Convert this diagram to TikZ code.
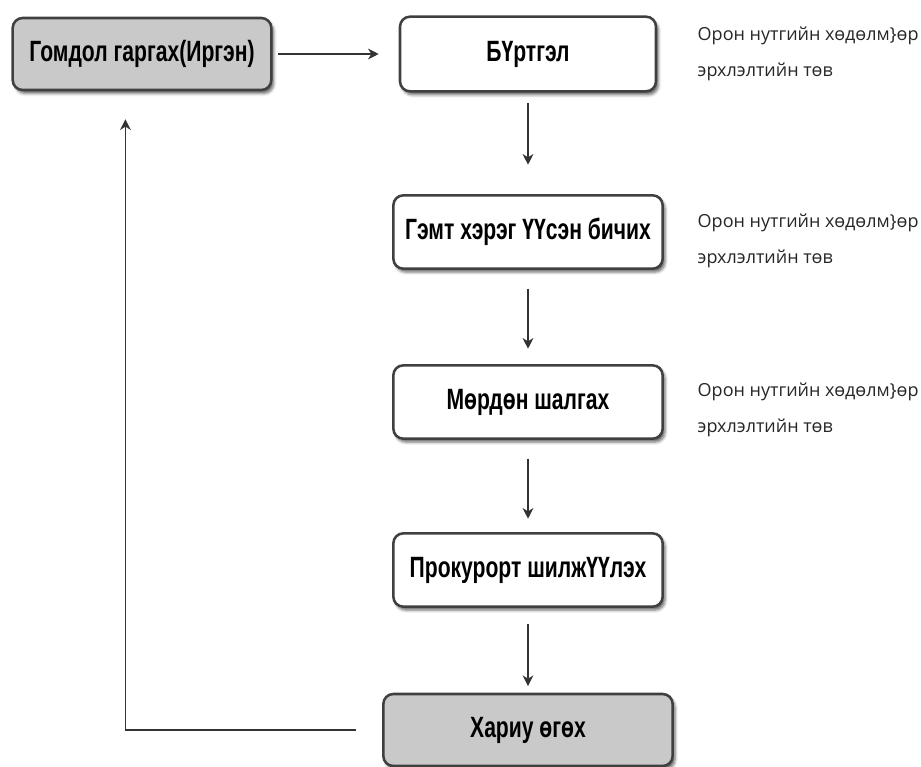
\documentclass[tikz,border=0pt]{standalone}
\usepackage{fontspec}
\setmainfont{Liberation Sans}
\newfontfamily\boxfont[FakeStretch=0.72]{Liberation Sans}
\newfontfamily\notefont{Open Sans}
\usetikzlibrary{shadows.blur, arrows.meta}

\begin{document}
\begin{tikzpicture}[
  x=0.75pt, y=-0.75pt,
  stepbox/.style={draw=black!75, line width=1.9pt, rounded corners=7.5pt, fill=white,
    inner sep=0pt, minimum width=202pt, minimum height=55pt,
    font=\boxfont\bfseries\fontsize{22}{25}\selectfont,
    blur shadow={shadow xshift=1.8pt, shadow yshift=-2.6pt, shadow opacity=60}},
  endbox/.style={stepbox, fill=gray!42},
  note/.style={anchor=west, align=left, text=black!85,
    font=\notefont\fontsize{13.5}{27}\selectfont},
  flow/.style={->, line width=1.2pt, draw=black!80},
  >={Stealth[length=8pt, width=8pt, inset=2.5pt]}
]
  \useasboundingbox (0,0) rectangle (921,767);

  \node[endbox, minimum width=194pt, minimum height=54pt] (compl) at (142,54) {Гомдол гаргах(Иргэн)};
  \node[stepbox, minimum width=192pt, minimum height=56pt] (reg) at (528,54) {БҮртгэл};
  \node[stepbox] (crime) at (528,232) {Гэмт хэрэг ҮҮсэн бичих};
  \node[stepbox] (inv) at (528,402) {Мөрдөн шалгах};
  \node[stepbox] (pros) at (528,570) {Прокурорт шилжҮҮлэх};
  \node[endbox, minimum width=217pt, minimum height=54pt] (resp) at (528,730) {Хариу өгөх};

  % notes on the right
  \node[note] (note1) at (693,54) {Орон нутгийн хөдөлм\}өр\\эрхлэлтийн төв};
  \node[note] (note2) at (693,241) {Орон нутгийн хөдөлм\}өр\\эрхлэлтийн төв};
  \node[note] (note3) at (693,410) {Орон нутгийн хөдөлм\}өр\\эрхлэлтийн төв};

  \draw[flow, shorten <=4pt, shorten >=15pt] (compl) -- (reg);
  \draw[flow, shorten <=8pt, shorten >=22pt] (reg) -- (crime);
  \draw[flow, shorten <=14pt, shorten >=11.5pt] (crime) -- (inv);
  \draw[flow, shorten <=14pt, shorten >=10pt] (inv) -- (pros);
  \draw[flow, shorten <=12pt, shorten >=5pt] (pros) -- (resp);
  % back to the citizen
  \draw[flow, shorten <=19.5pt, shorten >=21pt] (resp.west) -| ([xshift=-12.4pt]compl.south);
\end{tikzpicture}
\end{document}
